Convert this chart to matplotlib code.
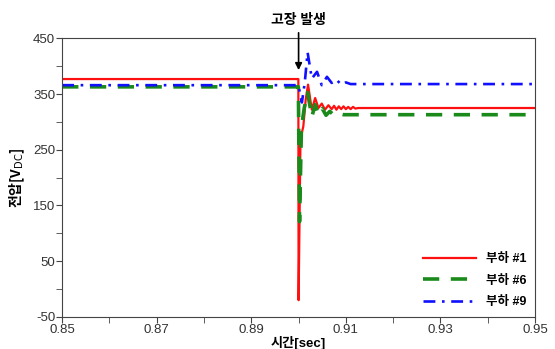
import matplotlib
matplotlib.use('Agg')
import matplotlib.pyplot as plt
from matplotlib.ticker import MultipleLocator

plt.rcParams['font.family'] = ['Liberation Sans', 'Noto Sans CJK KR']
plt.rcParams['axes.unicode_minus'] = False

# load #1
t_1 = [0.85, 0.89995, 0.9000, 0.9004, 0.9010, 0.9015, 0.9020, 0.9028, 0.9035,
       0.9042, 0.9049, 0.9056, 0.9063, 0.9070, 0.9075, 0.9080, 0.9085, 0.9090,
       0.9095, 0.9100, 0.9105, 0.9110, 0.9115, 0.9120, 0.9126, 0.95]
v_1 = [377, 377, -20, 270, 292, 340, 367, 322, 343, 325, 333, 322, 330, 323, 329, 322,
       328, 323, 328, 323, 327, 323, 327, 324, 325, 325]

# load #6
t_6 = [0.85, 0.89995, 0.9002, 0.9006, 0.9012, 0.9019, 0.9028, 0.9035, 0.9042,
       0.9050, 0.9058, 0.9066, 0.9075, 0.9085, 0.9095, 0.95]
v_6 = [363, 363, 121, 290, 325, 353, 309, 331, 313, 324, 312, 319, 312, 315, 313, 313]

# load #9
t_9 = [0.85, 0.89995, 0.9007, 0.9013, 0.9019, 0.9028, 0.9039, 0.9049, 0.9060,
       0.9070, 0.9080, 0.9090, 0.9100, 0.9110, 0.95]
v_9 = [366, 366, 335, 370, 425, 378, 390, 366, 381, 370, 376, 367, 371, 368, 368]

fig = plt.figure(figsize=(5.55, 3.49), dpi=100)
ax = fig.add_axes([0.112, 0.092, 0.852, 0.798])

ax.plot(t_1, v_1, color='#ff1010', lw=1.6, label='부하 #1')
ax.plot(t_6, v_6, color='#1a8a1a', lw=2.6, dashes=(4.5, 3.2), label='부하 #6')
ax.plot(t_9, v_9, color='#1010ff', lw=1.9, dashes=(4.5, 2.5, 1, 2.5), label='부하 #9')

ax.set_xlim(0.85, 0.95)
ax.set_ylim(-50, 450)
ax.set_xticks([0.85, 0.87, 0.89, 0.91, 0.93, 0.95])
ax.set_xticklabels(['0.85', '0.87', '0.89', '0.91', '0.93', '0.95'])
ax.xaxis.set_minor_locator(MultipleLocator(0.01))
ax.set_yticks([-50, 50, 150, 250, 350, 450])
ax.yaxis.set_minor_locator(MultipleLocator(50))
ax.tick_params(which='both', direction='out', length=4, color='#444444', labelsize=9.5,
               labelcolor='#333333', pad=1)
for sp in ax.spines.values():
    sp.set_color('#444444')

ax.set_xlabel('시간[sec]', fontweight='bold', fontsize=9.5, labelpad=0)
ax.set_ylabel('전압[V$_{\\mathrm{DC}}$]', fontweight='bold', fontsize=10,
              family=['Noto Sans CJK KR'], labelpad=4)

ax.annotate('고장 발생', xy=(0.9, 393), xytext=(0.9, 470), textcoords='data',
            ha='center', va='bottom', fontsize=10, fontweight='bold',
            annotation_clip=False,
            arrowprops=dict(arrowstyle='-|>', color='black', lw=1.2,
                            shrinkA=2, shrinkB=0, mutation_scale=10))

ax.legend(loc='lower right', frameon=False, handlelength=4.2,
          prop={'weight': 'bold', 'size': 9}, labelspacing=0.75,
          bbox_to_anchor=(1.0, 0.0), borderaxespad=0.3)

fig.savefig('out.png', dpi=100)
